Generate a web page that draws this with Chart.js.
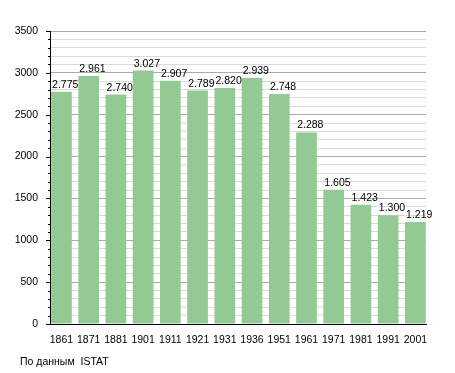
<!DOCTYPE html>
<html>
<head>
<meta charset="utf-8">
<script src="https://cdn.jsdelivr.net/npm/chart.js@4"></script>
<style>
  html, body { margin: 0; padding: 0; background: #fff; }
  #wrap { position: relative; width: 455px; height: 373px; }
  #note {
    position: absolute; left: 20px; top: 355px;
    font: 10.5px 'Liberation Sans', Arial, sans-serif; color: #000;
    white-space: pre;
  }
</style>
</head>
<body>
<div id="wrap">
  <canvas id="chart" width="455" height="373"></canvas>
  <div id="note">По данным  ISTAT</div>
</div>
<script>
'use strict';

// Popolazione per censimento
const YEARS = ['1861', '1871', '1881', '1901', '1911', '1921', '1931', '1936', '1951', '1961', '1971', '1981', '1991', '2001'];
const POP = [2775, 2961, 2740, 3027, 2907, 2789, 2820, 2939, 2748, 2288, 1605, 1423, 1300, 1219];
const Y_MAX = 3500;
const Y_STEP = 100;
const Y_LABEL_STEP = 500;

const FONT = "'Liberation Sans', Arial, sans-serif";
const BAR_COLOR = '#93c993';

function fmtIt(v) {
  return String(v).replace(/\B(?=(\d{3})+(?!\d))/g, '.');
}

// etichette sopra le barre + tacche dell'asse y
const extras = {
  id: 'extras',
  afterDatasetsDraw(chart) {
    const ctx = chart.ctx;
    const meta = chart.getDatasetMeta(0);
    ctx.save();
    ctx.font = '10.5px ' + FONT;
    ctx.fillStyle = '#000';
    ctx.textAlign = 'left';
    ctx.textBaseline = 'alphabetic';
    meta.data.forEach((bar, i) => {
      ctx.fillText(fmtIt(POP[i]), bar.x - bar.width / 2 + 1, bar.y - 4);
    });
    const y = chart.scales.y;
    const left = chart.chartArea.left;
    ctx.strokeStyle = '#000';
    ctx.lineWidth = 1;
    for (let v = 0; v <= Y_MAX; v += Y_STEP) {
      const py = Math.round(y.getPixelForValue(v)) + 0.5;
      const len = v % Y_LABEL_STEP === 0 ? 4 : 2;
      ctx.beginPath();
      ctx.moveTo(left - len, py);
      ctx.lineTo(left, py);
      ctx.stroke();
    }
    ctx.restore();
  },
};

new Chart(document.getElementById('chart'), {
  type: 'bar',
  data: {
    datasets: [{
      data: POP.map((v, i) => ({ x: i, y: v })),
      backgroundColor: BAR_COLOR,
      borderWidth: 0,
      barPercentage: 0.76,
      categoryPercentage: 1,
    }],
  },
  options: {
    responsive: false,
    animation: false,
    layout: { padding: { top: 31, right: 29, bottom: 29, left: 0 } },
    plugins: { legend: { display: false }, tooltip: { enabled: false } },
    scales: {
      x: {
        type: 'linear',
        offset: false,
        min: -0.42,
        max: 13.39,
        afterBuildTicks: (s) => { s.ticks = YEARS.map((_, i) => ({ value: i })); },
        afterFit: (s) => { s.height = 20; },
        grid: { display: false },
        border: { color: '#000', width: 1 },
        ticks: {
          autoSkip: false,
          maxRotation: 0,
          padding: 2,
          color: '#000',
          font: { family: FONT, size: 10.5 },
          callback: (v) => YEARS[v] || '',
        },
      },
      y: {
        min: 0,
        max: Y_MAX,
        afterFit: (s) => { s.width = 50; },
        grid: {
          drawTicks: false,
          color: (c) => (c.tick.value % Y_LABEL_STEP === 0 ? '#aaaaaa' : '#dadada'),
        },
        border: { color: '#000', width: 1 },
        ticks: {
          stepSize: Y_STEP,
          autoSkip: false,
          padding: 12,
          color: '#000',
          font: { family: FONT, size: 10.5 },
          callback: (v) => (v % Y_LABEL_STEP === 0 ? String(v) : ''),
        },
      },
    },
  },
  plugins: [extras],
});
</script>
</body>
</html>
